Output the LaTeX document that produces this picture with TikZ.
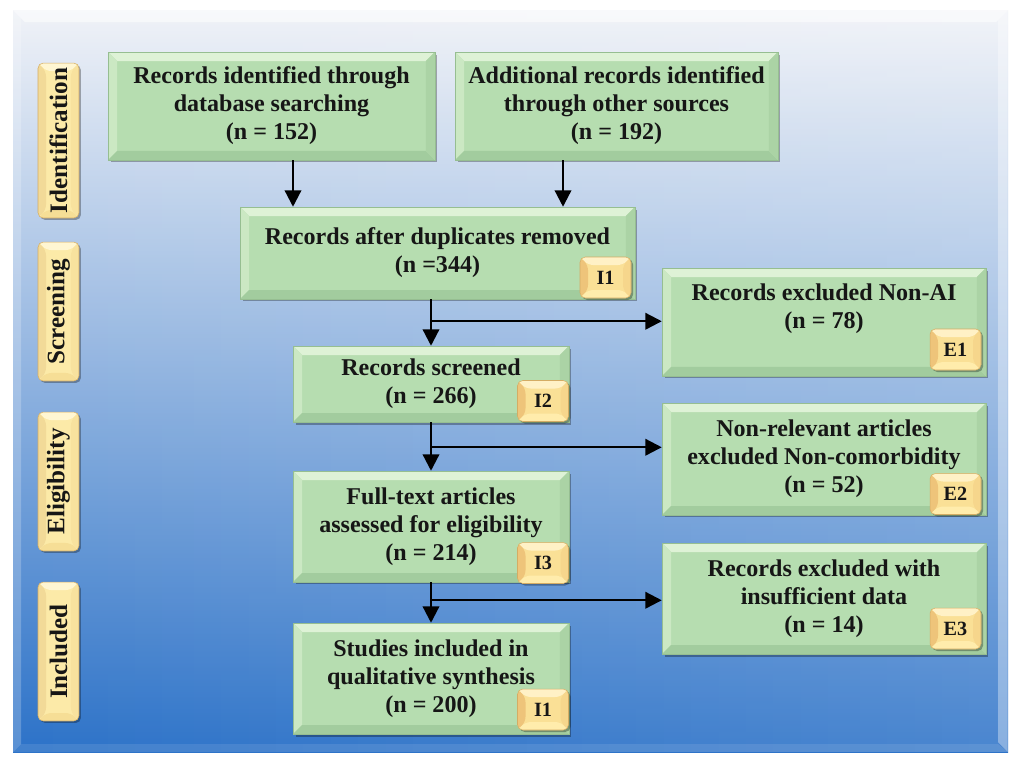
\documentclass[tikz,border=0pt]{standalone}
\usepackage{fontspec}
\setmainfont{Liberation Serif}
\usepackage{graphicx}
\usetikzlibrary{arrows.meta,shadows,fadings,calc}

% palette
\definecolor{bgtop}{RGB}{240,242,247}
\definecolor{bgmid}{RGB}{138,170,220}
\definecolor{bgbottom}{RGB}{44,114,200}
\definecolor{boxgreen}{RGB}{182,221,176}
\definecolor{greenlight}{RGB}{222,242,214}
\definecolor{greenmid}{RGB}{203,232,195}
\definecolor{greendark}{RGB}{162,204,158}
\definecolor{greenright}{RGB}{171,211,165}
\definecolor{greenedge}{RGB}{150,190,145}
\definecolor{badgebody}{RGB}{250,224,150}
\definecolor{badgetop}{RGB}{255,241,198}
\definecolor{badgeleft}{RGB}{238,196,122}
\definecolor{badgebottom}{RGB}{255,236,172}
\definecolor{badgeright}{RGB}{246,214,140}
\definecolor{badgeedge}{RGB}{212,172,100}
\definecolor{tabbody}{RGB}{252,234,168}
\definecolor{tabtop}{RGB}{255,246,210}
\definecolor{tableft}{RGB}{242,218,152}
\definecolor{tabbottom}{RGB}{246,222,150}
\definecolor{tabright}{RGB}{248,226,158}
\definecolor{textdark}{RGB}{22,22,22}

\newcommand\boxfont{\fontsize{13.7}{15.9}\selectfont\bfseries}
\newcommand\tabfont{\fontsize{14.3}{16}\selectfont\bfseries}
\newcommand\badgefont{\fontsize{11.5}{13}\selectfont\bfseries}

% four bevel faces inside the current node outline
\newcommand\bevelfaces[5]{%
  \fill[#2] (path picture bounding box.north west) -- (path picture bounding box.north east)
     -- ([shift={(-#1,-#1)}]path picture bounding box.north east)
     -- ([shift={(#1,-#1)}]path picture bounding box.north west) -- cycle;
  \fill[#3] (path picture bounding box.north west) -- ([shift={(#1,-#1)}]path picture bounding box.north west)
     -- ([shift={(#1,#1)}]path picture bounding box.south west) -- (path picture bounding box.south west) -- cycle;
  \fill[#4] (path picture bounding box.south west) -- ([shift={(#1,#1)}]path picture bounding box.south west)
     -- ([shift={(-#1,#1)}]path picture bounding box.south east) -- (path picture bounding box.south east) -- cycle;
  \fill[#5] (path picture bounding box.south east) -- ([shift={(-#1,#1)}]path picture bounding box.south east)
     -- ([shift={(-#1,-#1)}]path picture bounding box.north east) -- (path picture bounding box.north east) -- cycle;}

\tikzset{
  gbox/.style={fill=boxgreen, draw=greenedge, line width=0.3pt, align=center,
    font=\boxfont, text=textdark, inner sep=0pt,
    drop shadow={shadow xshift=0.05cm, shadow yshift=-0.05cm, opacity=0.3, fill=black},
    path picture={\bevelfaces{0.18cm}{greenlight}{greenmid}{greendark}{greenright}}},
  badge/.style={fill=badgebody, draw=badgeedge, line width=0.3pt, rounded corners=3pt,
    minimum width=1.02cm, minimum height=0.82cm, inner sep=0pt,
    font=\badgefont, text=textdark,
    drop shadow={shadow xshift=0.04cm, shadow yshift=-0.04cm, opacity=0.3, fill=black},
    path picture={\bevelfaces{0.16cm}{badgetop}{badgeleft}{badgebottom}{badgeright}}},
  phase/.style={fill=tabbody, draw=badgeedge, line width=0.3pt, rounded corners=3pt,
    minimum width=0.82cm, inner sep=0pt, font=\tabfont, text=textdark,
    drop shadow={shadow xshift=0.04cm, shadow yshift=-0.04cm, opacity=0.3, fill=black},
    path picture={\bevelfaces{0.16cm}{tabtop}{tableft}{tabbottom}{tabright}}},
  arr/.style={line width=1.3pt, draw=black, -{Triangle[length=0.33cm, width=0.33cm]}}
}

\begin{document}
\begin{tikzpicture}[x=0.02cm, y={(0,-0.02cm)}]
\useasboundingbox (0,0) rectangle (1014,758);
\fill[white] (0,0) rectangle (1014,758);

% background panel with a soft bevel
\shade[top color=bgtop, middle color=bgmid, bottom color=bgbottom] (13,10) rectangle (1008,752);
\fill[white, fill opacity=0.14, path fading=west] (13,10) rectangle (1008,752);
\fill[white, fill opacity=0.55] (13,10) -- (1008,10) -- (996,22) -- (25,22) -- cycle;
\fill[white, fill opacity=0.22] (13,10) -- (21,18) -- (21,744) -- (13,752) -- cycle;
\fill[white, fill opacity=0.35] (1008,10) -- (998,20) -- (998,742) -- (1008,752) -- cycle;
\fill[white, fill opacity=0.10] (13,752) -- (21,744) -- (998,744) -- (1008,752) -- cycle;

% phase tabs
\node[phase, minimum height=3.1cm]  (pid)  at (58.5,140.5) {\rotatebox{90}{Identification}};
\node[phase, minimum height=2.78cm] (pscr) at (58.5,311.5) {\rotatebox{90}{Screening}};
\node[phase, minimum height=2.78cm] (pel)  at (58.5,481.5) {\rotatebox{90}{Eligibility}};
\node[phase, minimum height=2.78cm] (pinc) at (58.5,651.5) {\rotatebox{90}{Included}};

% main flow
\node[gbox, minimum width=6.54cm, minimum height=2.16cm] (b1) at (271.5,106)
  {Records identified through\\database searching\\(n = 152)};
\node[gbox, minimum width=6.46cm, minimum height=2.16cm] (b2) at (616.5,106)
  {Additional records identified\\through other sources\\(n = 192)};
\node[gbox, minimum width=7.9cm, minimum height=1.84cm] (b3) at (437.5,253)
  {Records after duplicates removed\\(n =344)};
\node[gbox, minimum width=5.52cm, minimum height=1.52cm] (b4) at (431,384)
  {Records screened\\(n = 266)};
\node[gbox, minimum width=5.52cm, minimum height=2.22cm] (b5) at (431,526.5)
  {Full-text articles\\assessed for eligibility\\(n = 214)};
\node[gbox, minimum width=5.52cm, minimum height=2.22cm] (b6) at (431,678.5)
  {Studies included in\\qualitative synthesis\\(n = 200)};

% exclusions
\node[gbox, minimum width=6.48cm, minimum height=2.16cm] (e1) at (824,322) {};
\node[font=\boxfont, text=textdark, align=center] (e1t) at (824,309)
  {Records excluded Non-AI\\(n = 78)};
\node[gbox, minimum width=6.48cm, minimum height=2.24cm] (e2) at (824,459)
  {Non-relevant articles\\excluded Non-comorbidity\\(n = 52)};
\node[gbox, minimum width=6.48cm, minimum height=2.22cm] (e3) at (824,598.5)
  {Records excluded with\\insufficient data\\(n = 14)};

% badges
\node[badge] (k1) at (605.5,277.5) {I1};
\node[badge] (k2) at (543,401) {I2};
\node[badge] (k3) at (543,563) {I3};
\node[badge] (k4) at (543,709.5) {I1};
\node[badge] (x1) at (955.5,349.5) {E1};
\node[badge] (x2) at (955.5,494) {E2};
\node[badge] (x3) at (955.5,628.5) {E3};

% connectors
\draw[arr] ([xshift=0.43cm]b1.south) -- ([xshift=0.43cm]b1.south |- b3.north);
\draw[arr] ([xshift=-1.07cm]b2.south) -- ([xshift=-1.07cm]b2.south |- b3.north);

\path (b3.south -| b4.north) ++(0,22) coordinate (j1);
\path (b4.south) ++(0,25) coordinate (j2);
\path (b5.south) ++(0,18) coordinate (j3);

\draw[arr] (b3.south -| b4.north) -- (b4.north);
\draw[arr] (j1) -- (j1 -| e1.west);
\draw[arr] (b4.south) -- (b5.north);
\draw[arr] (j2) -- (j2 -| e2.west);
\draw[arr] (b5.south) -- (b6.north);
\draw[arr] (j3) -- (j3 -| e3.west);
\end{tikzpicture}
\end{document}
